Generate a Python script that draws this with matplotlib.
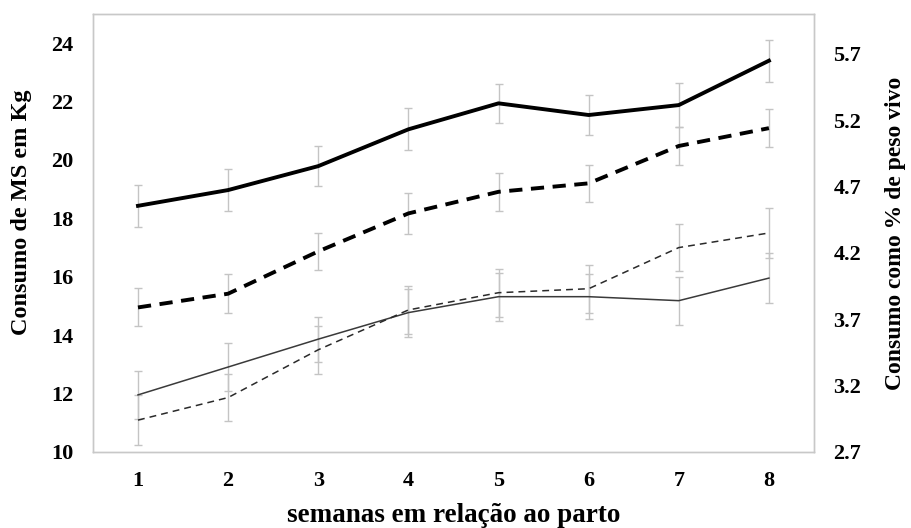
import numpy as np
import matplotlib.pyplot as plt

plt.rcParams['font.family'] = ['Liberation Serif', 'DejaVu Serif']
plt.rcParams['font.weight'] = 'bold'

semanas = [1, 2, 3, 4, 5, 6, 7, 8]

# consumo em kg (eixo esquerdo)
kg_a = [18.43, 18.97, 19.79, 21.05, 21.94, 21.54, 21.88, 23.40]
kg_a_err = [0.73, 0.72, 0.69, 0.72, 0.66, 0.70, 0.74, 0.72]
kg_b = [14.95, 15.42, 16.87, 18.17, 18.91, 19.20, 20.48, 21.09]
kg_b_err = [0.65, 0.67, 0.64, 0.69, 0.65, 0.64, 0.65, 0.66]

# consumo como % do peso vivo (eixo direito)
pv_a = [3.13, 3.34, 3.55, 3.75, 3.87, 3.87, 3.84, 4.01]
pv_a_err = [0.18, 0.18, 0.17, 0.18, 0.18, 0.17, 0.18, 0.19]
pv_b = [2.94, 3.11, 3.47, 3.77, 3.90, 3.93, 4.24, 4.35]
pv_b_err = [0.19, 0.18, 0.18, 0.18, 0.18, 0.18, 0.18, 0.19]

kg_ticks = [10, 12, 14, 16, 18, 20, 22, 24]
pv_ticks = [2.7, 3.2, 3.7, 4.2, 4.7, 5.2, 5.7]

fig = plt.figure(figsize=(9.11, 5.28), dpi=100)
ax = fig.add_axes([0.102, 0.144, 0.7915, 0.8295])
ax2 = ax.twinx()

err_style = dict(ecolor='#c4c4c4', elinewidth=1.0, capsize=3, capthick=1.0)

ax.errorbar(semanas, kg_a, yerr=kg_a_err, color='black', lw=2.8, **err_style)
ax.errorbar(semanas, kg_b, yerr=kg_b_err, color='black', lw=2.8,
            dashes=(3.4, 2.2), **err_style)
ax2.errorbar(semanas, pv_a, yerr=pv_a_err, color='#3a3a3a', lw=1.1, **err_style)
ax2.errorbar(semanas, pv_b, yerr=pv_b_err, color='#2a2a2a', lw=1.1,
             dashes=(4.5, 3.3), **err_style)

ax.set_xlim(0.5, 8.5)
ax.set_ylim(10, 25)
ax2.set_ylim(2.7, 6.0)
ax.set_xticks(semanas)
ax.set_yticks(kg_ticks)
ax2.set_yticks(pv_ticks)
ax2.set_yticklabels([f'{t:.1f}' for t in pv_ticks])

for a in (ax, ax2):
    a.tick_params(length=0, labelsize=16, pad=14)
    for s in a.spines.values():
        s.set_color('#c8c8c8')
        s.set_linewidth(1.0)
ax.tick_params(axis='x', pad=14)

ax.set_ylabel('Consumo de MS em Kg', fontsize=17.5, fontweight='bold')
ax.yaxis.set_label_coords(-0.085, 0.548)
ax2.set_ylabel('Consumo como % de peso vivo', fontsize=17, fontweight='bold', labelpad=17)
ax.set_xlabel('semanas em relação ao parto', fontsize=19.5, fontweight='bold', labelpad=8)

fig.savefig('out.png', dpi=100)
